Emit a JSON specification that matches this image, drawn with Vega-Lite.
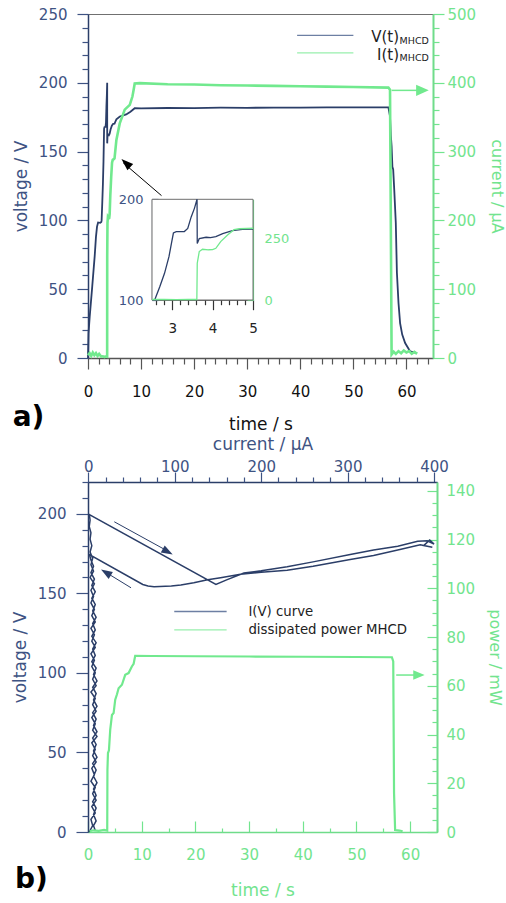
{
  "$schema": "https://vega.github.io/schema/vega-lite/v6.json",
  "padding": {"left": 10, "top": 6, "right": 4, "bottom": 4},
  "spacing": 1,
  "config": {
    "view": {"stroke": "#707070", "strokeWidth": 1},
    "font": "DejaVu Sans",
    "axis": {"grid": false, "labelFont": "DejaVu Sans", "titleFont": "DejaVu Sans", "labelFontSize": 15, "titleFontSize": 17, "titleFontWeight": "normal", "labelFlush": false, "labelOverlap": false, "labelBound": false, "domainWidth": 1.5, "tickWidth": 1.2}
  },
  "datasets": {
    "va": [
      {"t":0,"V":0},{"t":0.1,"V":18},{"t":0.32,"V":30},{"t":0.8,"V":52},{"t":1.26,"V":74},{"t":1.5,"V":88},{"t":1.7,"V":95.5},{"t":1.9,"V":98.5},{"t":2.3,"V":98.2},{"t":2.5,"V":98.8},{"t":2.566,"V":100},{"t":2.69,"V":113},{"t":2.81,"V":126.5},{"t":2.92,"V":143},{"t":2.98,"V":156},{"t":3.03,"V":166.5},{"t":3.1,"V":167.8},{"t":3.3,"V":168},{"t":3.385,"V":171},{"t":3.47,"V":182.5},{"t":3.55,"V":191},{"t":3.615,"V":200},{"t":3.62,"V":156},{"t":3.67,"V":161},{"t":3.84,"V":162.3},{"t":3.95,"V":162},{"t":4.08,"V":163},{"t":4.25,"V":166},{"t":4.49,"V":168.8},{"t":4.74,"V":170.2},{"t":5.0,"V":170.3},{"t":5.35,"V":173.5},{"t":6.0,"V":175.5},{"t":7.2,"V":177},{"t":8.0,"V":179},{"t":8.8,"V":181.5},{"t":10,"V":181.4},{"t":15,"V":181.7},{"t":20,"V":181.6},{"t":25,"V":181.9},{"t":30,"V":181.8},{"t":35,"V":182},{"t":40,"V":181.9},{"t":45,"V":182.1},{"t":50,"V":182.2},{"t":56.6,"V":182.2},{"t":56.9,"V":175.6},{"t":57.05,"V":162},{"t":57.2,"V":153.8},{"t":57.35,"V":139},{"t":57.5,"V":137},{"t":57.7,"V":122.3},{"t":57.99,"V":98.3},{"t":58.2,"V":62},{"t":58.5,"V":40},{"t":58.8,"V":25.4},{"t":59.2,"V":17},{"t":59.75,"V":10.9},{"t":60.7,"V":4.8},{"t":62,"V":3.6}
    ],
    "ia": [
      {"t":0,"I":4},{"t":0.3,"I":7},{"t":0.6,"I":3},{"t":0.9,"I":8},{"t":1.2,"I":4},{"t":1.5,"I":7},{"t":1.8,"I":3},{"t":2.1,"I":6},{"t":2.4,"I":3},{"t":2.5,"I":2},{"t":2.8,"I":2.5},{"t":3.1,"I":1.5},{"t":3.4,"I":2.5},{"t":3.61,"I":2},{"t":3.62,"I":148.6},{"t":3.67,"I":196},{"t":3.75,"I":205},{"t":3.9,"I":203},{"t":4.0,"I":203.5},{"t":4.08,"I":209},{"t":4.2,"I":236},{"t":4.37,"I":263},{"t":4.53,"I":284},{"t":4.66,"I":288},{"t":4.85,"I":289},{"t":5.0,"I":290},{"t":5.35,"I":317},{"t":5.98,"I":341},{"t":6.5,"I":352},{"t":6.92,"I":361},{"t":7.87,"I":368},{"t":8.37,"I":380},{"t":8.6,"I":390},{"t":8.8,"I":399},{"t":9.75,"I":399.5},{"t":15,"I":398},{"t":20,"I":397.5},{"t":25,"I":396.5},{"t":30,"I":396},{"t":35,"I":395.5},{"t":40,"I":395},{"t":45,"I":394.5},{"t":50,"I":394},{"t":56.6,"I":393},{"t":56.9,"I":390},{"t":57.05,"I":200},{"t":57.2,"I":5},{"t":57.6,"I":9},{"t":58,"I":6},{"t":58.5,"I":10},{"t":59,"I":7},{"t":59.5,"I":11},{"t":60,"I":8},{"t":60.5,"I":10},{"t":61,"I":6},{"t":61.5,"I":9},{"t":62,"I":6}
    ],
    "iv": [
      {"s":1,"I":1,"V":0},{"s":2,"I":5,"V":4},{"s":3,"I":3,"V":8},{"s":4,"I":8,"V":12},{"s":5,"I":4,"V":16},{"s":6,"I":9,"V":20},{"s":7,"I":5,"V":24},{"s":8,"I":8,"V":28},{"s":9,"I":3,"V":32},{"s":10,"I":7,"V":36},{"s":11,"I":4,"V":40},{"s":12,"I":9,"V":44},{"s":13,"I":5,"V":48},{"s":14,"I":8,"V":52},{"s":15,"I":4,"V":56},{"s":16,"I":10,"V":60},{"s":17,"I":5,"V":64},{"s":18,"I":8,"V":68},{"s":19,"I":4,"V":72},{"s":20,"I":9,"V":76},{"s":21,"I":5,"V":80},{"s":22,"I":8,"V":84},{"s":23,"I":3,"V":88},{"s":24,"I":9,"V":92},{"s":25,"I":5,"V":96},{"s":26,"I":8,"V":100},{"s":27,"I":4,"V":104},{"s":28,"I":7,"V":108},{"s":29,"I":3,"V":112},{"s":30,"I":8,"V":116},{"s":31,"I":4,"V":120},{"s":32,"I":7,"V":124},{"s":33,"I":3,"V":128},{"s":34,"I":8,"V":132},{"s":35,"I":4,"V":136},{"s":36,"I":7,"V":140},{"s":37,"I":3,"V":144},{"s":38,"I":6,"V":148},{"s":39,"I":3,"V":152},{"s":40,"I":7,"V":156},{"s":41,"I":2,"V":160},{"s":42,"I":6,"V":164},{"s":43,"I":3,"V":168},{"s":44,"I":5,"V":172},{"s":45,"I":2,"V":176},{"s":46,"I":4,"V":180},{"s":47,"I":2,"V":184},{"s":48,"I":3,"V":188},{"s":49,"I":1,"V":192},{"s":50,"I":2,"V":196},{"s":51,"I":1.2,"V":199.5},
      {"s":52,"I":147.6,"V":155.6},{"s":53,"I":160,"V":158.5},{"s":54,"I":180,"V":162.8},{"s":55,"I":200,"V":164.2},{"s":56,"I":230,"V":166.8},{"s":57,"I":260,"V":169.8},{"s":58,"I":303,"V":174.4},{"s":59,"I":330,"V":177.2},{"s":60,"I":358,"V":179.6},{"s":61,"I":381,"V":182.7},{"s":62,"I":392,"V":183},{"s":63,"I":400,"V":181},{"s":64,"I":395,"V":183.5},{"s":65,"I":388,"V":180},{"s":66,"I":398,"V":179},
      {"s":67,"I":384,"V":180.5},{"s":68,"I":358,"V":177.3},{"s":69,"I":330,"V":173.8},{"s":70,"I":303,"V":171.3},{"s":71,"I":260,"V":167},{"s":72,"I":230,"V":164.5},{"s":73,"I":200,"V":163.2},{"s":74,"I":176,"V":162},{"s":75,"I":153,"V":159.8},{"s":76,"I":138,"V":158.5},{"s":77,"I":122,"V":156.7},{"s":78,"I":107,"V":155.2},{"s":79,"I":96,"V":154.6},{"s":80,"I":76,"V":154.2},{"s":81,"I":69,"V":154.6},{"s":82,"I":63,"V":155.6},{"s":83,"I":1.2,"V":174.4},
      {"s":84,"I":3,"V":171},{"s":85,"I":6,"V":167},{"s":86,"I":3,"V":163},{"s":87,"I":7,"V":159},{"s":88,"I":4,"V":155},{"s":89,"I":8,"V":151},{"s":90,"I":4,"V":147},{"s":91,"I":8,"V":143},{"s":92,"I":5,"V":139},{"s":93,"I":9,"V":135},{"s":94,"I":5,"V":131},{"s":95,"I":8,"V":127},{"s":96,"I":4,"V":123},{"s":97,"I":9,"V":119},{"s":98,"I":5,"V":115},{"s":99,"I":8,"V":111},{"s":100,"I":4,"V":107},{"s":101,"I":9,"V":103},{"s":102,"I":6,"V":99},{"s":103,"I":10,"V":95},{"s":104,"I":5,"V":91},{"s":105,"I":9,"V":87},{"s":106,"I":6,"V":83},{"s":107,"I":10,"V":79},{"s":108,"I":5,"V":75},{"s":109,"I":9,"V":71},{"s":110,"I":6,"V":67},{"s":111,"I":10,"V":63},{"s":112,"I":5,"V":59},{"s":113,"I":9,"V":55},{"s":114,"I":6,"V":51},{"s":115,"I":10,"V":47},{"s":116,"I":5,"V":43},{"s":117,"I":9,"V":39},{"s":118,"I":6,"V":35},{"s":119,"I":10,"V":31},{"s":120,"I":6,"V":27},{"s":121,"I":9,"V":23},{"s":122,"I":5,"V":19},{"s":123,"I":9,"V":15},{"s":124,"I":6,"V":11},{"s":125,"I":9,"V":7},{"s":126,"I":6,"V":4},{"s":127,"I":8,"V":1}
    ],
    "pb": [
      {"t":0.3,"P":0.3},{"t":1,"P":0.7},{"t":2,"P":0.5},{"t":3,"P":0.9},{"t":3.58,"P":0.6},{"t":3.62,"P":25.6},{"t":3.72,"P":32.4},{"t":3.9,"P":33.5},{"t":4.14,"P":42},{"t":4.46,"P":48},{"t":4.77,"P":48.8},{"t":5.07,"P":54.3},{"t":5.4,"P":56.5},{"t":5.7,"P":59},{"t":6.32,"P":60.4},{"t":6.93,"P":64.5},{"t":7.56,"P":65.2},{"t":8.17,"P":67.9},{"t":8.5,"P":69},{"t":8.79,"P":72.3},{"t":12,"P":72.2},{"t":20,"P":72.1},{"t":30,"P":72.0},{"t":40,"P":71.9},{"t":50,"P":71.8},{"t":56.6,"P":71.7},{"t":56.85,"P":70},{"t":57.0,"P":16},{"t":57.2,"P":0.8},{"t":58,"P":0.6},{"t":58.6,"P":0.3}
    ]
  },
  "vconcat": [
    {
      "width": 345,
      "height": 344,
      "layer": [
        {
          "layer": [
            {
              "layer": [
                {
                  "data": {"name": "va"},
                  "mark": {"type": "line", "color": "#2b3e68", "strokeWidth": 1.8},
                  "encoding": {
                    "x": {"field": "t", "type": "quantitative", "scale": {"domain": [0, 65], "nice": false, "zero": false},
                      "axis": {"orient": "bottom", "values": [0,10,20,30,40,50,60], "tickSize": 11, "labelPadding": 15, "title": "time / s", "titleColor": "#111", "labelColor": "#111", "domainColor": "#555", "tickColor": "#555", "titlePadding": 17}},
                    "y": {"field": "V", "type": "quantitative", "scale": {"domain": [0, 250], "nice": false, "zero": false},
                      "axis": {"orient": "left", "values": [0,50,100,150,200,250], "tickSize": 11, "labelPadding": 10, "title": "voltage / V", "titleColor": "#3e5383", "labelColor": "#3e5383", "domainColor": "#2b3e68", "tickColor": "#3e5383", "titlePadding": 8}}
                  }
                },
                {
                  "data": {"values": [{"t": 13.85, "V": 118, "t2": 6.6, "V2": 142}]},
                  "mark": {"type": "rule", "color": "#000", "strokeWidth": 1},
                  "encoding": {"x": {"field": "t", "type": "quantitative"}, "x2": {"field": "t2"}, "y": {"field": "V", "type": "quantitative"}, "y2": {"field": "V2"}}
                },
                {
                  "data": {"values": [{"t": 6.3, "V": 144.6}]},
                  "mark": {"type": "point", "shape": "M0,0L0.6,1.7L-0.6,1.7Z", "filled": true, "color": "#000", "opacity": 1, "size": 200, "angle": 312.5, "strokeWidth": 0},
                  "encoding": {"x": {"field": "t", "type": "quantitative"}, "y": {"field": "V", "type": "quantitative"}}
                },
                {
                  "data": {"values": [{"t": 39.4, "t2": 50, "V": 234.4}]},
                  "mark": {"type": "rule", "color": "#6d7fa3", "strokeWidth": 1.3},
                  "encoding": {"x": {"field": "t", "type": "quantitative"}, "x2": {"field": "t2"}, "y": {"field": "V", "type": "quantitative"}}
                },
                {
                  "data": {"values": [{"t": 39.4, "t2": 50, "V": 221.7}]},
                  "mark": {"type": "rule", "color": "#98efad", "strokeWidth": 1.3},
                  "encoding": {"x": {"field": "t", "type": "quantitative"}, "x2": {"field": "t2"}, "y": {"field": "V", "type": "quantitative"}}
                },
                {
                  "data": {"values": [{"t": 58.6, "V": 233.1, "label": "V(t)"}, {"t": 58.6, "V": 220.4, "label": "I(t)"}]},
                  "mark": {"type": "text", "align": "right", "baseline": "middle", "fontSize": 15, "color": "#222"},
                  "encoding": {"x": {"field": "t", "type": "quantitative"}, "y": {"field": "V", "type": "quantitative"}, "text": {"field": "label"}}
                },
                {
                  "data": {"values": [{"t": 58.7, "V": 230.4, "label": "MHCD"}, {"t": 58.7, "V": 217.7, "label": "MHCD"}]},
                  "mark": {"type": "text", "align": "left", "baseline": "middle", "fontSize": 9.5, "color": "#222"},
                  "encoding": {"x": {"field": "t", "type": "quantitative"}, "y": {"field": "V", "type": "quantitative"}, "text": {"field": "label"}}
                },
                {
                  "data": {"values": [{"t": -14.2, "V": -43.5, "label": "a)"}]},
                  "mark": {"type": "text", "align": "left", "baseline": "middle", "fontSize": 28, "fontWeight": "bold", "color": "#000"},
                  "encoding": {"x": {"field": "t", "type": "quantitative"}, "y": {"field": "V", "type": "quantitative"}, "text": {"field": "label"}}
                }
              ]
            },
            {
              "layer": [
                {
                  "data": {"name": "ia"},
                  "mark": {"type": "line", "color": "#71e98e", "strokeWidth": 2.6},
                  "encoding": {
                    "x": {"field": "t", "type": "quantitative"},
                    "y": {"field": "I", "type": "quantitative", "scale": {"domain": [0, 500], "nice": false, "zero": false},
                      "axis": {"orient": "right", "values": [0,100,200,300,400,500], "tickSize": 11, "labelPadding": 3, "title": "current / µA", "titleFontSize": 16, "titleColor": "#72e48e", "labelColor": "#72e48e", "domainColor": "#6fdc8a", "domainWidth": 2, "tickColor": "#72e48e", "titlePadding": 13}}
                  }
                },
                {
                  "data": {"values": [{"t": 57.2, "I": 389, "t2": 63}]},
                  "mark": {"type": "rule", "color": "#71e98e", "strokeWidth": 1.5},
                  "encoding": {"x": {"field": "t", "type": "quantitative"}, "x2": {"field": "t2"}, "y": {"field": "I", "type": "quantitative"}}
                },
                {
                  "data": {"values": [{"t": 64.2, "I": 389}]},
                  "mark": {"type": "point", "shape": "M0,0L0.75,1.7L-0.75,1.7Z", "filled": true, "color": "#71e98e", "opacity": 1, "size": 220, "angle": 90, "strokeWidth": 0},
                  "encoding": {"x": {"field": "t", "type": "quantitative"}, "y": {"field": "I", "type": "quantitative"}}
                }
              ]
            },
            {
              "data": {"name": "va"},
              "mark": {"type": "point", "opacity": 0},
              "encoding": {
                "x": {"field": "t", "type": "quantitative"},
                "y": {"field": "V", "type": "quantitative", "scale": {"domain": [0, 250], "nice": false, "zero": false},
                "axis": {"orient": "left", "values": [10,20,30,40,60,70,80,90,110,120,130,140,160,170,180,190,210,220,230,240], "tickSize": 6, "labels": false, "domain": false, "title": null, "tickColor": "#3e5383"}}}
            },
            {
              "data": {"name": "ia"},
              "mark": {"type": "point", "opacity": 0},
              "encoding": {
                "x": {"field": "t", "type": "quantitative"},
                "y": {"field": "I", "type": "quantitative", "scale": {"domain": [0, 500], "nice": false, "zero": false},
                "axis": {"orient": "right", "values": [20,40,60,80,120,140,160,180,220,240,260,280,320,340,360,380,420,440,460,480], "tickSize": 6, "labels": false, "domain": false, "title": null, "tickColor": "#72e48e"}}}
            }
          ],
          "resolve": {"scale": {"y": "independent"}}
        },
        {
          "layer": [
            {
              "layer": [
                {
                  "data": {"values": [{"t": 2.5, "t2": 5, "V": 100, "V2": 200}]},
                  "mark": {"type": "rect", "fill": "#ffffff", "stroke": "#6e6e6e", "strokeWidth": 1},
                  "encoding": {
                    "x": {"field": "t", "type": "quantitative", "scale": {"domain": [2.5, 5], "range": [64, 165], "nice": false, "zero": false}},
                    "x2": {"field": "t2"},
                    "y": {"field": "V", "type": "quantitative", "scale": {"domain": [100, 200], "range": [286, 185.3], "nice": false, "zero": false}},
                    "y2": {"field": "V2"}
                  }
                },
                {
                  "data": {"name": "va"},
                  "transform": [{"filter": "datum.t >= 2.56 && datum.t <= 5.0"}],
                  "mark": {"type": "line", "color": "#2b3e68", "strokeWidth": 1.3},
                  "encoding": {
                    "x": {"field": "t", "type": "quantitative",
                      "axis": {"orient": "bottom", "offset": -58.3, "values": [3, 4, 5], "format": "d", "tickSize": 10, "labelPadding": 12, "labelFontSize": 13.5, "title": null, "labelColor": "#222", "domainColor": "#333", "tickColor": "#333", "domainWidth": 1.2}},
                    "y": {"field": "V", "type": "quantitative",
                      "axis": {"orient": "left", "offset": -64, "values": [100,110,120,130,140,150,160,170,180,190,200], "labelExpr": "datum.value % 100 === 0 ? datum.label : ''", "tickSize": -6, "labelPadding": 15, "labelFontSize": 13, "title": null, "labelColor": "#3e5383", "domainColor": "#2b3e68", "tickColor": "#3e5383", "domainWidth": 1.2}}
                  }
                }
              ]
            },
            {
              "layer": [
                {
                  "data": {"name": "ia"},
                  "transform": [{"filter": "datum.t >= 2.5 && datum.t <= 5.0"}],
                  "mark": {"type": "line", "color": "#71e98e", "strokeWidth": 1.3},
                  "encoding": {
                    "x": {"field": "t", "type": "quantitative"},
                    "y": {"field": "I", "type": "quantitative", "scale": {"domain": [0, 407], "range": [286, 185.3], "nice": false, "zero": false},
                      "axis": {"orient": "right", "offset": -180, "values": [0,50,100,150,200,250,300,350,400], "labelExpr": "datum.value === 0 || datum.value === 250 ? datum.label : ''", "tickSize": -6, "labelPadding": 17, "labelFontSize": 13, "title": null, "labelColor": "#72e48e", "domainColor": "#6fdc8a", "tickColor": "#72e48e", "domainWidth": 1.2}}
                  }
                }
              ]
            }
          ],
          "resolve": {"scale": {"y": "independent"}}
        },
        {
          "data": {"name": "va"},
          "mark": {"type": "point", "opacity": 0},
          "encoding": {
            "x": {"field": "t", "type": "quantitative", "scale": {"domain": [0, 65], "nice": false, "zero": false},
              "axis": {"orient": "bottom", "values": [2,4,6,8,12,14,16,18,22,24,26,28,32,34,36,38,42,44,46,48,52,54,56,58,62,64], "tickSize": 6, "labels": false, "domain": false, "title": null, "tickColor": "#555"}},
            "y": {"field": "V", "type": "quantitative", "axis": null, "scale": {"domain": [0, 250], "nice": false, "zero": false}}
          }
        },
        {
          "data": {"name": "va"},
          "transform": [{"filter": "datum.t >= 2.5 && datum.t <= 5.0"}],
          "mark": {"type": "point", "opacity": 0},
          "encoding": {
            "x": {"field": "t", "type": "quantitative", "scale": {"domain": [2.5, 5], "range": [64, 165], "nice": false, "zero": false},
              "axis": {"orient": "bottom", "offset": -58.3, "values": [2.6,2.8,3.2,3.4,3.6,3.8,4.2,4.4,4.6,4.8], "tickSize": 5, "labels": false, "domain": false, "title": null, "tickColor": "#333"}},
            "y": {"field": "V", "type": "quantitative", "axis": null, "scale": {"domain": [0, 250], "nice": false, "zero": false}}
          }
        }
      ],
      "resolve": {"scale": {"x": "independent", "y": "independent"}}
    },
    {
      "width": 349,
      "height": 350,
      "layer": [
        {
          "layer": [
            {
              "data": {"name": "iv"},
              "mark": {"type": "line", "color": "#2b3e68", "strokeWidth": 1.5},
              "encoding": {
                "order": {"field": "s", "type": "quantitative"},
                "x": {"field": "I", "type": "quantitative", "scale": {"domain": [-0.4, 403.4], "nice": false, "zero": false},
                  "axis": {"orient": "top", "values": [0,100,200,300,400], "tickSize": 10, "labelPadding": -2, "title": "current / µA", "titleColor": "#3e5383", "labelColor": "#3e5383", "domainColor": "#2b3e68", "tickColor": "#3e5383", "titlePadding": 6}},
                "y": {"field": "V", "type": "quantitative", "scale": {"domain": [0, 220], "nice": false, "zero": false},
                  "axis": {"orient": "left", "values": [0,50,100,150,200], "tickSize": 12, "labelPadding": 10, "title": "voltage / V", "titleColor": "#3e5383", "labelColor": "#3e5383", "domainColor": "#2b3e68", "tickColor": "#3e5383", "titlePadding": 8}}
              }
            },
            {
              "data": {"values": [{"I": 30, "V": 195, "I2": 92, "V2": 176.5}, {"I": 49.4, "V": 153.5, "I2": 20, "V2": 163.3}]},
              "mark": {"type": "rule", "color": "#2b3e68", "strokeWidth": 1},
              "encoding": {"x": {"field": "I", "type": "quantitative"}, "x2": {"field": "I2"}, "y": {"field": "V", "type": "quantitative"}, "y2": {"field": "V2"}}
            },
            {
              "data": {"values": [{"I": 97.6, "V": 174.4}]},
              "mark": {"type": "point", "shape": "M0,0L0.6,1.7L-0.6,1.7Z", "filled": true, "color": "#2b3e68", "opacity": 1, "size": 180, "angle": 119.2, "strokeWidth": 0},
              "encoding": {"x": {"field": "I", "type": "quantitative"}, "y": {"field": "V", "type": "quantitative"}}
            },
            {
              "data": {"values": [{"I": 14.7, "V": 165}]},
              "mark": {"type": "point", "shape": "M0,0L0.6,1.7L-0.6,1.7Z", "filled": true, "color": "#2b3e68", "opacity": 1, "size": 180, "angle": 301.4, "strokeWidth": 0},
              "encoding": {"x": {"field": "I", "type": "quantitative"}, "y": {"field": "V", "type": "quantitative"}}
            },
            {
              "data": {"values": [{"I": 99.4, "I2": 160, "V": 138.6}]},
              "mark": {"type": "rule", "color": "#6d7fa3", "strokeWidth": 1.3},
              "encoding": {"x": {"field": "I", "type": "quantitative"}, "x2": {"field": "I2"}, "y": {"field": "V", "type": "quantitative"}}
            },
            {
              "data": {"values": [{"I": 99.4, "I2": 160, "V": 127}]},
              "mark": {"type": "rule", "color": "#98efad", "strokeWidth": 1.3},
              "encoding": {"x": {"field": "I", "type": "quantitative"}, "x2": {"field": "I2"}, "y": {"field": "V", "type": "quantitative"}}
            },
            {
              "data": {"values": [{"I": 185.2, "V": 138.2, "label": "I(V) curve"}, {"I": 185.2, "V": 126.8, "label": "dissipated power MHCD"}]},
              "mark": {"type": "text", "align": "left", "baseline": "middle", "fontSize": 13.3, "color": "#222"},
              "encoding": {"x": {"field": "I", "type": "quantitative"}, "y": {"field": "V", "type": "quantitative"}, "text": {"field": "label"}}
            }
          ]
        },
        {
          "layer": [
            {
              "data": {"name": "pb"},
              "mark": {"type": "line", "color": "#71e98e", "strokeWidth": 2.2},
              "encoding": {
                "x": {"field": "t", "type": "quantitative", "scale": {"domain": [0, 65], "nice": false, "zero": false},
                  "axis": {"orient": "bottom", "values": [0,10,20,30,40,50,60], "tickSize": -11, "labelPadding": 26, "title": "time / s", "titleColor": "#72e48e", "labelColor": "#72e48e", "domainColor": "#6fdc8a", "tickColor": "#72e48e", "titlePadding": 20}},
                "y": {"field": "P", "type": "quantitative", "scale": {"domain": [0, 143.6], "nice": false, "zero": false},
                  "axis": {"orient": "right", "values": [0,20,40,60,80,100,120,140], "tickSize": -10, "labelPadding": 19, "title": "power / mW", "titleFontSize": 16, "titleColor": "#72e48e", "labelColor": "#72e48e", "domainColor": "#6fdc8a", "domainWidth": 2, "tickColor": "#72e48e", "titlePadding": 12}}
              }
            },
            {
              "data": {"values": [{"t": 57.4, "P": 64.4, "t2": 61.5}]},
              "mark": {"type": "rule", "color": "#71e98e", "strokeWidth": 1.5},
              "encoding": {"x": {"field": "t", "type": "quantitative"}, "x2": {"field": "t2"}, "y": {"field": "P", "type": "quantitative"}}
            },
            {
              "data": {"values": [{"t": 62.7, "P": 64.4}]},
              "mark": {"type": "point", "shape": "M0,0L0.7,1.7L-0.7,1.7Z", "filled": true, "color": "#71e98e", "opacity": 1, "size": 180, "angle": 90, "strokeWidth": 0},
              "encoding": {"x": {"field": "t", "type": "quantitative"}, "y": {"field": "P", "type": "quantitative"}}
            },
            {
              "data": {"values": [{"t": -13.6, "P": -19.5, "label": "b)"}]},
              "mark": {"type": "text", "align": "left", "baseline": "middle", "fontSize": 28, "fontWeight": "bold", "color": "#000"},
              "encoding": {"x": {"field": "t", "type": "quantitative"}, "y": {"field": "P", "type": "quantitative"}, "text": {"field": "label"}}
            }
          ]
        },
        {
          "data": {"name": "iv"},
          "mark": {"type": "point", "opacity": 0},
          "encoding": {
            "x": {"field": "I", "type": "quantitative", "scale": {"domain": [-0.4, 403.4], "nice": false, "zero": false},
              "axis": {"orient": "top", "values": [20,40,60,80,120,140,160,180,220,240,260,280,320,340,360,380], "tickSize": 5, "labels": false, "domain": false, "title": null, "tickColor": "#3e5383"}},
            "y": {"field": "V", "type": "quantitative", "axis": null, "scale": {"domain": [0, 220], "nice": false, "zero": false}}
          }
        },
        {
          "data": {"name": "iv"},
          "mark": {"type": "point", "opacity": 0},
          "encoding": {
            "x": {"field": "I", "type": "quantitative", "axis": null, "scale": {"domain": [-0.4, 403.4], "nice": false, "zero": false}},
            "y": {"field": "V", "type": "quantitative", "scale": {"domain": [0, 220], "nice": false, "zero": false},
              "axis": {"orient": "left", "values": [10,20,30,40,60,70,80,90,110,120,130,140,160,170,180,190,210,220], "tickSize": 6, "labels": false, "domain": false, "title": null, "tickColor": "#3e5383"}}
          }
        },
        {
          "data": {"name": "pb"},
          "mark": {"type": "point", "opacity": 0},
          "encoding": {
            "x": {"field": "t", "type": "quantitative", "scale": {"domain": [0, 65], "nice": false, "zero": false},
              "axis": {"orient": "bottom", "values": [5,15,25,35,45,55,65], "tickSize": -4, "labels": false, "domain": false, "title": null, "tickColor": "#72e48e"}},
            "y": {"field": "P", "type": "quantitative", "axis": null, "scale": {"domain": [0, 143.6], "nice": false, "zero": false}}
          }
        },
        {
          "data": {"name": "pb"},
          "mark": {"type": "point", "opacity": 0},
          "encoding": {
            "x": {"field": "t", "type": "quantitative", "axis": null, "scale": {"domain": [0, 65], "nice": false, "zero": false}},
            "y": {"field": "P", "type": "quantitative", "scale": {"domain": [0, 143.6], "nice": false, "zero": false},
              "axis": {"orient": "right", "values": [5,10,15,25,30,35,45,50,55,65,70,75,85,90,95,105,110,115,125,130,135], "tickSize": -5, "labels": false, "domain": false, "title": null, "tickColor": "#72e48e"}}
          }
        }
      ],
      "resolve": {"scale": {"x": "independent", "y": "independent"}}
    }
  ]
}
